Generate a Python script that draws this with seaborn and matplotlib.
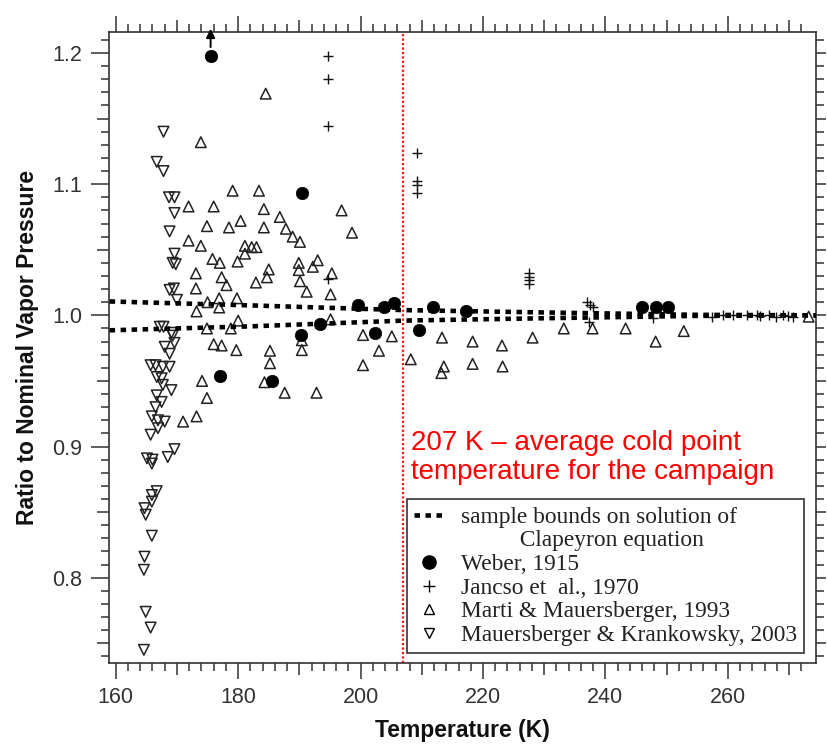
import matplotlib
matplotlib.use("Agg")
import matplotlib.pyplot as plt
import seaborn as sns
import numpy as np
from matplotlib.lines import Line2D

# ---------------- data ----------------
bound_T = [159.0, 182.0, 207.0, 230.0, 255.0, 274.4]
bound_upper = [1.0106, 1.0076, 1.0040, 1.0022, 1.0004, 1.0000]
bound_lower = [0.9886, 0.9916, 0.9960, 0.9978, 0.9996, 1.0000]

weber_T = [175.5, 190.4, 177.1, 185.5, 190.3, 193.3, 199.5, 202.3, 203.8, 205.4,
           209.5, 211.8, 217.2, 246.0, 248.2, 250.3]
weber_R = [1.198, 1.093, 0.954, 0.950, 0.985, 0.9935, 1.0079, 0.9867, 1.006, 1.0097,
           0.989, 1.0065, 1.0034, 1.0065, 1.0065, 1.0065]

jancso_T = [194.6, 194.6, 194.6, 194.6, 209.2, 209.2, 209.2, 209.2, 227.5, 227.5,
            227.5, 227.5, 237.0, 237.5, 238.0, 237.3, 247.8, 257.4, 259.2, 260.8,
            263.1, 264.7, 265.2, 266.8, 267.9, 269.0, 269.8, 270.6]
jancso_R = [1.198, 1.180, 1.144, 1.028, 1.124, 1.1025, 1.099, 1.093, 1.032, 1.029,
            1.0266, 1.024, 1.010, 1.008, 1.0065, 0.995, 0.998, 0.999, 1.0, 1.0005,
            1.0005, 1.0, 0.9995, 1.0, 0.999, 1.0, 0.9995, 0.999]

marti_T = [184.5, 173.9, 179.1, 183.4, 171.9, 176.0, 184.2, 196.9, 186.8, 174.9,
           178.5, 180.4, 184.2, 187.8, 188.9, 190.1, 198.6, 171.9, 173.9, 181.1,
           182.2, 183.0, 181.1, 175.8, 177.0, 179.9, 185.0, 189.9, 189.9, 192.2,
           193.0, 195.3, 173.1, 177.3, 173.1, 178.1, 182.9, 184.7, 190.1, 191.2,
           195.1, 175.0, 173.2, 176.9, 176.9, 179.8, 180.0, 174.9, 178.8, 195.1,
           190.4, 190.4, 176.0, 177.3, 179.7, 185.2, 185.2, 184.3, 187.6, 192.8,
           174.1, 174.9, 173.2, 171.0, 200.4, 205.1, 203.0, 200.4, 208.2, 213.3,
           213.6, 213.2, 218.3, 218.3, 223.1, 223.2, 228.1, 233.2, 237.9, 243.3,
           248.2, 252.8, 273.2]
marti_R = [1.169, 1.132, 1.095, 1.095, 1.083, 1.083, 1.081, 1.080, 1.075, 1.068,
           1.067, 1.072, 1.067, 1.066, 1.060, 1.056, 1.063, 1.057, 1.053, 1.053,
           1.052, 1.052, 1.047, 1.043, 1.040, 1.041, 1.035, 1.040, 1.0345, 1.037,
           1.042, 1.032, 1.032, 1.029, 1.0205, 1.023, 1.025, 1.029, 1.026, 1.018,
           1.016, 1.010, 1.003, 1.013, 1.006, 1.013, 0.996, 0.990, 0.990, 0.997,
           0.981, 0.9735, 0.978, 0.977, 0.9735, 0.973, 0.9635, 0.949, 0.941, 0.941,
           0.950, 0.937, 0.923, 0.919, 0.985, 0.984, 0.973, 0.962, 0.9665, 0.983,
           0.961, 0.956, 0.980, 0.963, 0.977, 0.961, 0.983, 0.990, 0.990, 0.990,
           0.980, 0.988, 0.999]

mk_T = [167.8, 166.7, 167.8, 168.7, 169.6, 169.6, 168.8, 169.6, 169.3, 169.8,
        168.8, 169.5, 170.0, 167.2, 167.8, 169.1, 169.3, 169.6, 168.0, 168.8,
        165.7, 166.5, 167.7, 168.8, 166.7, 167.5, 167.7, 169.1, 166.7, 167.5,
        166.5, 165.9, 166.9, 168.0, 166.9, 165.7, 169.6, 168.5, 165.1, 166.0,
        165.9, 166.7, 165.9, 165.9, 164.7, 164.9, 165.9, 164.7, 164.6, 164.9,
        165.7, 164.6]
mk_R = [1.140, 1.117, 1.110, 1.090, 1.090, 1.078, 1.064, 1.047, 1.040, 1.039,
        1.0194, 1.0205, 1.0118, 0.9913, 0.9913, 0.9867, 0.9845, 0.979, 0.976, 0.9707,
        0.962, 0.962, 0.9608, 0.9608, 0.953, 0.952, 0.947, 0.943, 0.939, 0.934,
        0.930, 0.923, 0.920, 0.919, 0.914, 0.909, 0.898, 0.892, 0.891, 0.890,
        0.887, 0.866, 0.863, 0.858, 0.853, 0.848, 0.832, 0.816, 0.806, 0.774,
        0.762, 0.745]

cold_point_T = 207
x_limits = (158.9, 274.4)
y_limits = (0.735, 1.216)
x_major = list(range(160, 271, 10))
x_minor = list(range(160, 273, 2))
y_major = [0.75, 0.80, 0.85, 0.90, 0.95, 1.00, 1.05, 1.10, 1.15, 1.20]
y_minor = [round(0.74 + 0.01 * i, 2) for i in range(48)]

legend_labels = ["sample bounds on solution of",
                 "          Clapeyron equation",
                 "Weber, 1915", "Jancso et  al., 1970",
                 "Marti & Mauersberger, 1993",
                 "Mauersberger & Krankowsky, 2003"]

# ---------------- figure ----------------
sns.set_style("ticks")
plt.rcParams["font.family"] = ["Liberation Sans", "DejaVu Sans"]

fig = plt.figure(figsize=(8.27, 7.46), dpi=100)
ax = fig.add_axes([0.1318, 0.1113, 0.8549, 0.8458])

dot_style = (0, (1.2, 1.2))
sns.lineplot(x=bound_T, y=bound_upper, ax=ax, color="black", lw=3.3,
             linestyle=dot_style, sort=False, estimator=None, zorder=3)
sns.lineplot(x=bound_T, y=bound_lower, ax=ax, color="black", lw=3.3,
             linestyle=dot_style, sort=False, estimator=None, zorder=3)

sns.scatterplot(x=marti_T, y=marti_R, ax=ax, marker="^", s=58,
                facecolors="none", edgecolor="#222222", linewidth=1.1, zorder=2)
sns.scatterplot(x=mk_T, y=mk_R, ax=ax, marker="v", s=58,
                facecolors="none", edgecolor="#222222", linewidth=1.1, zorder=2)
sns.scatterplot(x=jancso_T, y=jancso_R, ax=ax, marker="+", s=55,
                color="#111111", linewidth=1.0, zorder=4)
sns.scatterplot(x=weber_T, y=weber_R, ax=ax, marker="o", s=80,
                color="black", edgecolor="black", linewidth=0.5, zorder=5)

# arrow above the off-scale Weber point
ax.annotate("", xy=(weber_T[0], 1.2185), xytext=(weber_T[0], 1.2045),
            arrowprops=dict(arrowstyle="-|>", color="black", lw=1.4,
                            mutation_scale=13, shrinkA=0, shrinkB=0),
            annotation_clip=False, zorder=6)

ax.axvline(cold_point_T, color="#ff1010", lw=1.6, linestyle=(0, (1, 1)), zorder=1)
ax.text(208.3, 0.9125, "207 K \u2013 average cold point\ntemperature for the campaign",
        color="#ff0000", fontsize=20, ha="left", va="top", linespacing=1.12,
        family=["Liberation Sans", "DejaVu Sans"], zorder=7)

ax.set_xlim(*x_limits)
ax.set_ylim(*y_limits)

# ticks
ax.set_xticks(x_major)
ax.set_xticklabels([str(v) if v % 20 == 0 else "" for v in x_major])
ax.set_xticks(x_minor, minor=True)
ax.set_yticks(y_major)
ax.set_yticklabels([f"{v:.1f}" if abs(v * 10 - round(v * 10)) < 1e-6 else ""
                    for v in y_major])
ax.set_yticks(y_minor, minor=True)

ax.tick_params(which="both", direction="out", top=True, right=True,
               width=1.1, color="#333333")
ax.tick_params(which="major", labelsize=15.5, labelcolor="#333333", pad=6)
ax.tick_params(axis="x", which="major", length=11.5)
ax.tick_params(axis="y", which="major", length=13)
ax.tick_params(which="minor", length=6)

for t in ax.xaxis.get_major_ticks():
    L = 11.5 if int(round(t.get_loc())) % 20 == 0 else 8.8
    t.tick1line.set_markersize(L)
    t.tick2line.set_markersize(L)
for t in ax.yaxis.get_major_ticks():
    v = t.get_loc()
    L = 13 if abs(v * 10 - round(v * 10)) < 1e-6 else 8.8
    t.tick1line.set_markersize(L)
    t.tick2line.set_markersize(7.5)

for sp in ax.spines.values():
    sp.set_visible(True)
    sp.set_linewidth(1.2)
    sp.set_color("#333333")

ax.set_xlabel("Temperature (K)", fontsize=16.5, fontweight="bold",
              color="#111111", labelpad=8)
ax.set_ylabel("Ratio to Nominal Vapor Pressure", fontsize=16.5,
              fontweight="bold", color="#111111", labelpad=10)

# legend
handles = [
    Line2D([], [], color="black", lw=3.3, linestyle=dot_style),
    Line2D([], [], linestyle="none"),
    Line2D([], [], marker="o", color="black", linestyle="none", markersize=9.5),
    Line2D([], [], marker="+", color="black", linestyle="none", markersize=9,
           markeredgewidth=1.0),
    Line2D([], [], marker="^", markerfacecolor="none", markeredgecolor="black",
           linestyle="none", markersize=7.5, markeredgewidth=1.0),
    Line2D([], [], marker="v", markerfacecolor="none", markeredgecolor="black",
           linestyle="none", markersize=7.5, markeredgewidth=1.0),
]
leg = ax.legend(handles, legend_labels, loc="lower right",
                bbox_to_anchor=(0.983, 0.0158), borderaxespad=0,
                frameon=True, fancybox=False, framealpha=1,
                prop={"family": ["Liberation Serif", "DejaVu Serif"], "size": 16.8},
                handlelength=1.3, handletextpad=0.7, labelspacing=0.1,
                borderpad=0.3)
leg.get_frame().set_edgecolor("#333333")
leg.get_frame().set_linewidth(1.2)
for txt in leg.get_texts():
    txt.set_color("#222222")
leg.set_zorder(10)

fig.savefig("out.png", dpi=100, facecolor="white")
